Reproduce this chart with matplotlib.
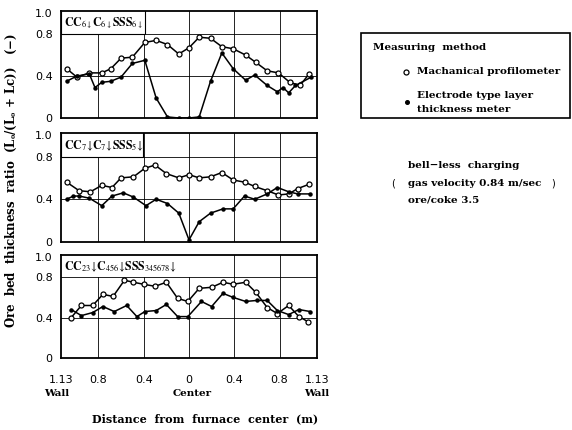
import matplotlib
matplotlib.use("Agg")
import matplotlib.pyplot as plt
from matplotlib.patches import Rectangle
from matplotlib.lines import Line2D

plt.rcParams["mathtext.fontset"] = "stix"

W, H = 572, 430

# CC6 C6 SSS6 charging
prof1_x = [-1.08, -0.99, -0.88, -0.77, -0.69, -0.60, -0.50, -0.39, -0.29, -0.19, -0.09, 0.00,
           0.09, 0.19, 0.29, 0.39, 0.50, 0.59, 0.69, 0.79, 0.89, 0.98, 1.06]
prof1_y = [0.47, 0.39, 0.43, 0.43, 0.47, 0.57, 0.58, 0.72, 0.74, 0.70, 0.61, 0.67,
           0.77, 0.76, 0.68, 0.66, 0.60, 0.53, 0.45, 0.43, 0.34, 0.31, 0.42]
elec1_x = [-1.08, -0.99, -0.88, -0.83, -0.77, -0.69, -0.60, -0.50, -0.39, -0.29, -0.19, -0.09, 0.00,
           0.09, 0.19, 0.29, 0.39, 0.50, 0.58, 0.69, 0.78, 0.83, 0.88, 0.94, 1.08]
elec1_y = [0.35, 0.40, 0.42, 0.29, 0.34, 0.35, 0.39, 0.52, 0.55, 0.19, 0.01, 0.00, 0.00,
           0.01, 0.35, 0.62, 0.47, 0.36, 0.41, 0.31, 0.25, 0.29, 0.24, 0.31, 0.39]

# CC7 C7 SSS5 charging
prof2_x = [-1.08, -0.97, -0.87, -0.77, -0.68, -0.60, -0.49, -0.39, -0.30, -0.20, -0.09, 0.00,
           0.09, 0.19, 0.29, 0.39, 0.49, 0.58, 0.69, 0.79, 0.88, 0.96, 1.06]
prof2_y = [0.56, 0.48, 0.47, 0.53, 0.51, 0.60, 0.61, 0.69, 0.72, 0.64, 0.60, 0.63,
           0.60, 0.61, 0.65, 0.58, 0.56, 0.52, 0.48, 0.44, 0.45, 0.50, 0.54]
elec2_x = [-1.08, -1.02, -0.97, -0.88, -0.77, -0.68, -0.58, -0.49, -0.38, -0.29, -0.19, -0.09,
           0.00, 0.09, 0.19, 0.30, 0.39, 0.49, 0.58, 0.69, 0.78, 0.88, 0.96, 1.07]
elec2_y = [0.40, 0.43, 0.43, 0.41, 0.34, 0.43, 0.46, 0.42, 0.34, 0.40, 0.36, 0.27,
           0.02, 0.19, 0.27, 0.31, 0.31, 0.43, 0.40, 0.45, 0.51, 0.47, 0.45, 0.45]

# CC23 C456 SSS345678 charging
prof3_x = [-1.04, -0.95, -0.85, -0.76, -0.67, -0.57, -0.49, -0.40, -0.30, -0.20, -0.10, -0.01,
           0.09, 0.20, 0.30, 0.39, 0.50, 0.59, 0.69, 0.78, 0.88, 0.97, 1.05]
prof3_y = [0.40, 0.52, 0.52, 0.63, 0.61, 0.77, 0.75, 0.73, 0.71, 0.75, 0.59, 0.56,
           0.69, 0.70, 0.75, 0.73, 0.75, 0.65, 0.50, 0.44, 0.52, 0.41, 0.36]
elec3_x = [-1.04, -0.95, -0.85, -0.76, -0.66, -0.55, -0.46, -0.39, -0.29, -0.20, -0.10, -0.01,
           0.11, 0.20, 0.30, 0.39, 0.50, 0.60, 0.69, 0.78, 0.88, 0.97, 1.07]
elec3_y = [0.48, 0.42, 0.45, 0.51, 0.46, 0.52, 0.41, 0.46, 0.47, 0.53, 0.41, 0.41,
           0.56, 0.51, 0.64, 0.60, 0.56, 0.57, 0.57, 0.47, 0.43, 0.48, 0.46]

pattern_labels = [
    r"$\mathbf{CC}_{6\downarrow}\mathbf{C}_{6\downarrow}\mathbf{SSS}_{6\downarrow}$",
    r"$\mathbf{CC}_{7}\!\downarrow\!\mathbf{C}_{7}\!\downarrow\!\mathbf{SSS}_{5}\!\downarrow$",
    r"$\mathbf{CC}_{23}\!\downarrow\!\mathbf{C}_{456}\!\downarrow\!\mathbf{SSS}_{345678}\!\downarrow$",
]
x_ticks = [-1.13, -0.8, -0.4, 0, 0.4, 0.8, 1.13]
x_ticklabels = ["1.13", "0.8", "0.4", "0", "0.4", "0.8", "1.13"]
y_ticks = [0, 0.4, 0.8, 1.0]
y_ticklabels = ["0", "0.4", "0.8", "1.0"]

series = [(prof1_x, prof1_y, elec1_x, elec1_y),
          (prof2_x, prof2_y, elec2_x, elec2_y),
          (prof3_x, prof3_y, elec3_x, elec3_y)]

# (top, bottom) of each panel in pixels, and right end of the label box (m)
panels = [(11, 118, -0.39, True), (133, 242, -0.41, True), (255, 358, 0.05, False)]

fig = plt.figure(figsize=(W / 100, H / 100), dpi=100)
serif = dict(family="DejaVu Serif", weight="bold")

for i, ((top, bot, box_r, box_edge), (px_, py_, ex_, ey_)) in enumerate(zip(panels, series)):
    ax = fig.add_axes([61 / W, 1 - bot / H, 256 / W, (bot - top) / H])
    ax.set_xlim(-1.13, 1.13)
    ax.set_ylim(0, 1.02)
    for xg in (-0.8, -0.4, 0, 0.4, 0.8):
        ax.axvline(xg, color="k", lw=0.6, zorder=1)
    for yg in (0.4, 0.8):
        ax.axhline(yg, color="k", lw=0.6, zorder=1)
    ax.add_patch(Rectangle((-1.13, 0.8), box_r + 1.13, 0.25, fc="white",
                           ec="k" if box_edge else "none", lw=0.8, zorder=2))
    ax.text(-1.10, 0.905, pattern_labels[i], fontsize=8.5, va="center", ha="left", zorder=4)
    ax.plot(px_, py_, "-o", color="k", lw=1.1, ms=3.6, mfc="white", mec="k", mew=0.9, zorder=3)
    ax.plot(ex_, ey_, "-o", color="k", lw=1.1, ms=2.2, zorder=3)
    ax.set_yticks(y_ticks)
    ax.set_yticklabels(y_ticklabels, family="DejaVu Sans", fontsize=8)
    ax.set_xticks(x_ticks)
    if i == 2:
        ax.set_xticklabels(x_ticklabels, family="DejaVu Sans", fontsize=8)
    else:
        ax.set_xticklabels([])
    ax.tick_params(length=0, pad=6)
    ax.tick_params(axis="x", pad=12)
    for s in ax.spines.values():
        s.set_linewidth(1.3)

def ftext(x, y, s, **kw):
    fig.text(x / W, 1 - y / H, s, **kw)

ftext(57, 394, "Wall", fontsize=7.5, ha="center", va="center", **serif)
ftext(192, 394, "Center", fontsize=7.5, ha="center", va="center", **serif)
ftext(317, 394, "Wall", fontsize=7.5, ha="center", va="center", **serif)
ftext(205, 419, "Distance  from  furnace  center  (m)", fontsize=8,
      ha="center", va="center", **serif)
ftext(11, 180, r"Ore  bed  thickness  ratio  (L$_\mathbf{o}$/(L$_\mathbf{o}$ + Lc))   (−)",
      fontsize=8.5, ha="center", va="center", rotation=90, **serif)

# measuring method box
fig.add_artist(Rectangle((361 / W, 1 - 118 / H), 209 / W, 85 / H, transform=fig.transFigure,
                         fc="none", ec="k", lw=1.2))
ftext(373, 48, "Measuring  method", fontsize=7.5, ha="left", va="center", **serif)
fig.add_artist(Line2D([406 / W], [1 - 72 / H], marker="o", ms=3.6, mfc="white", mec="k",
                      mew=0.9, transform=fig.transFigure))
ftext(417, 72, "Machanical profilometer", fontsize=7.5, ha="left", va="center", **serif)
fig.add_artist(Line2D([407 / W], [1 - 102 / H], marker="o", ms=2.6, color="k",
                      transform=fig.transFigure))
ftext(417, 95, "Electrode type layer", fontsize=7.5, ha="left", va="center", **serif)
ftext(417, 110, "thickness meter", fontsize=7.5, ha="left", va="center", **serif)

# operating conditions
ftext(408, 165, "bell−less  charging", fontsize=7.5, ha="left", va="center", **serif)
ftext(408, 183, "gas velocity 0.84 m/sec", fontsize=7.5, ha="left", va="center", **serif)
ftext(408, 200, "ore/coke 3.5", fontsize=7.5, ha="left", va="center", **serif)
ftext(393, 183, "(", fontsize=7, ha="center", va="center", family="DejaVu Sans")
ftext(553, 183, ")", fontsize=7, ha="center", va="center", family="DejaVu Sans")

fig.savefig("out.png", dpi=100)
